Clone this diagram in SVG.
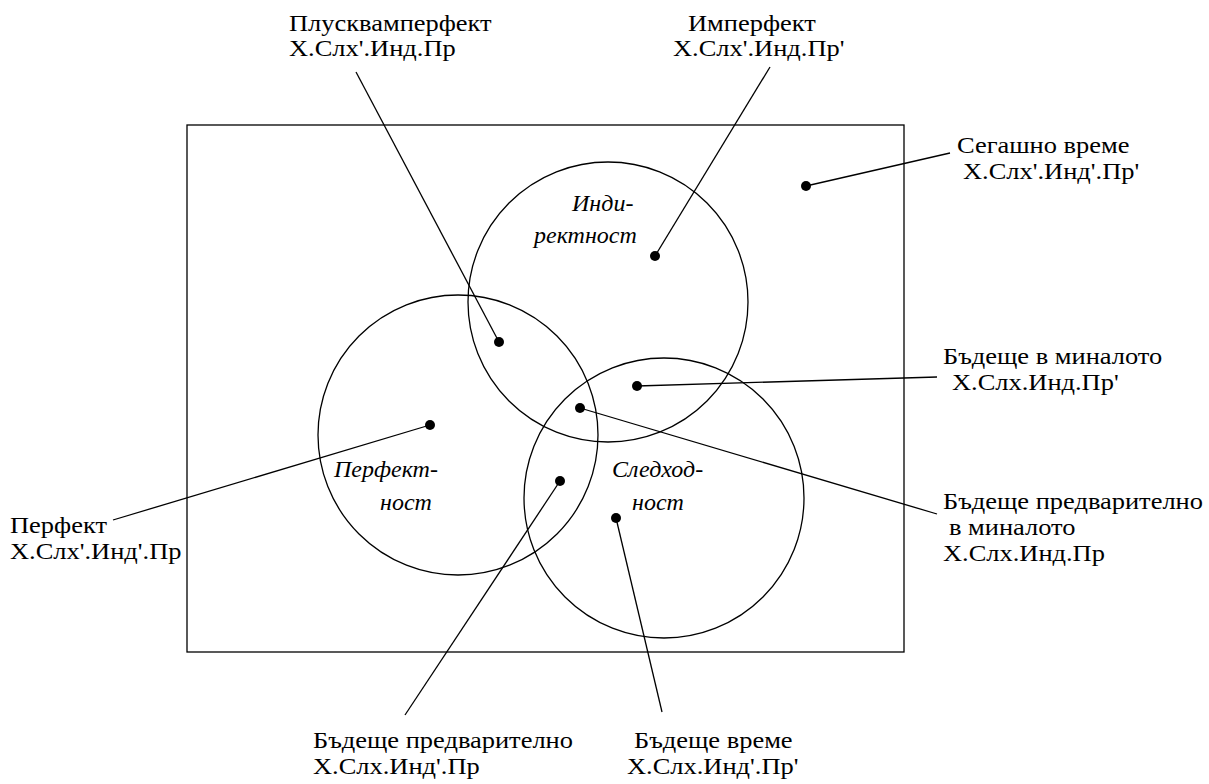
<svg xmlns="http://www.w3.org/2000/svg" width="1209" height="784" viewBox="0 0 1209 784">
<style>
.t{font-family:"Liberation Serif","Times New Roman",serif;font-size:23px;fill:#000}
.i{font-family:"Liberation Serif","Times New Roman",serif;font-size:24px;font-style:italic;fill:#000}
.s{fill:none;stroke:#000;stroke-width:1.3}
.d{fill:#000}
</style>
<rect width="1209" height="784" fill="#fff"/>
<g id="frame"><rect class="s" x="187" y="125" width="717" height="527"/></g>
<g id="indirektnost"><circle class="s" cx="608" cy="302" r="140"/><text class="i" x="572" y="211">Инди-</text><text class="i" x="534" y="243">ректност</text></g>
<g id="perfektnost"><circle class="s" cx="458" cy="435" r="140"/><text class="i" x="334" y="477">Перфект-</text><text class="i" x="380" y="510">ност</text></g>
<g id="sledhodnost"><circle class="s" cx="664" cy="498" r="140"/><text class="i" x="612" y="477">Следход-</text><text class="i" x="632" y="510">ност</text></g>
<g id="connectors">
<line class="s" x1="356" y1="72" x2="499" y2="342"/>
<line class="s" x1="770" y1="67" x2="655" y2="256"/>
<line class="s" x1="950" y1="153" x2="806" y2="186"/>
<line class="s" x1="937" y1="377" x2="637" y2="386"/>
<line class="s" x1="937" y1="514" x2="580" y2="408"/>
<line class="s" x1="113" y1="520" x2="430" y2="425"/>
<line class="s" x1="405" y1="715" x2="560" y2="481"/>
<line class="s" x1="662" y1="712" x2="616" y2="518"/>
</g>
<g id="dots">
<circle class="d" cx="499" cy="342" r="5"/>
<circle class="d" cx="655" cy="256" r="5"/>
<circle class="d" cx="806" cy="186" r="5"/>
<circle class="d" cx="637" cy="386" r="5"/>
<circle class="d" cx="580" cy="408" r="5"/>
<circle class="d" cx="430" cy="425" r="5"/>
<circle class="d" cx="560" cy="481" r="5"/>
<circle class="d" cx="616" cy="518" r="5"/>
</g>
<g id="pluskvamperfekt"><text class="t" transform="translate(289 31) scale(1.15 1)">Плусквамперфект</text><text class="t" transform="translate(289 56) scale(1.15 1)">X.Слх'.Инд.Пр</text></g>
<g id="imperfekt"><text class="t" transform="translate(688 31) scale(1.15 1)">Имперфект</text><text class="t" transform="translate(673 56) scale(1.15 1)">X.Слх'.Инд.Пр'</text></g>
<g id="segashno"><text class="t" transform="translate(957 153) scale(1.15 1)">Сегашно време</text><text class="t" transform="translate(963 179) scale(1.15 1)">X.Слх'.Инд'.Пр'</text></g>
<g id="badeshte-minaloto"><text class="t" transform="translate(943 364) scale(1.15 1)">Бъдеще в миналото</text><text class="t" transform="translate(952 390) scale(1.15 1)">X.Слх.Инд.Пр'</text></g>
<g id="badeshte-predv-minaloto"><text class="t" transform="translate(943 509) scale(1.15 1)">Бъдеще предварително</text><text class="t" transform="translate(949 535) scale(1.15 1)">в миналото</text><text class="t" transform="translate(943 561) scale(1.15 1)">X.Слх.Инд.Пр</text></g>
<g id="perfekt"><text class="t" transform="translate(10 533) scale(1.15 1)">Перфект</text><text class="t" transform="translate(10 559) scale(1.15 1)">X.Слх'.Инд'.Пр</text></g>
<g id="badeshte-predv"><text class="t" transform="translate(313 748) scale(1.15 1)">Бъдеще предварително</text><text class="t" transform="translate(313 774) scale(1.15 1)">X.Слх.Инд'.Пр</text></g>
<g id="badeshte"><text class="t" transform="translate(634 748) scale(1.15 1)">Бъдеще време</text><text class="t" transform="translate(627 774) scale(1.15 1)">X.Слх.Инд'.Пр'</text></g>
</svg>
